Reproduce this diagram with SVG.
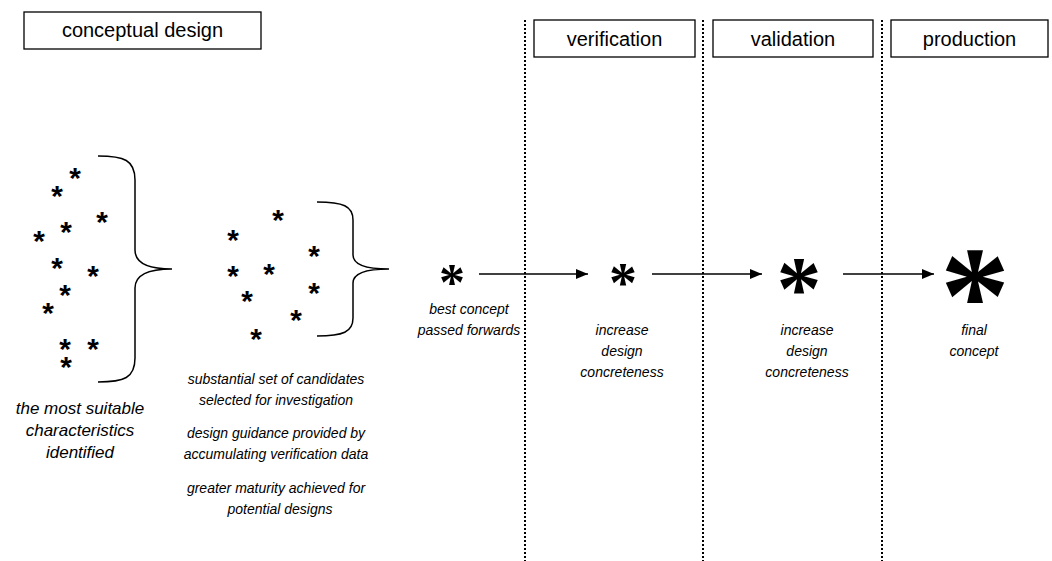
<svg xmlns="http://www.w3.org/2000/svg" width="1052" height="561" viewBox="0 0 1052 561">
<style>
.box{fill:#fff;stroke:#000;stroke-width:1.3}
.title{font-family:"Liberation Sans",Arial,sans-serif;font-size:20px;text-anchor:middle;fill:#000}
.lbl{font-family:"Liberation Sans",Arial,sans-serif;font-size:14px;font-style:italic;text-anchor:middle;fill:#000}
.lbl17{font-size:17px}
.sa{font-family:"Liberation Sans",Arial,sans-serif;font-size:30px;font-style:italic;font-weight:bold;fill:#000}
.ba{font-family:"Liberation Serif","Times New Roman",serif;font-weight:bold;text-anchor:middle;fill:#000}
.dot{stroke:#000;stroke-width:2;stroke-dasharray:2 2;fill:none}
.brace{fill:none;stroke:#000;stroke-width:1.5}
.arr{stroke:#000;stroke-width:1.3;fill:none;marker-end:url(#ah)}
</style>
<defs>
<marker id="ah" markerWidth="12" markerHeight="10" refX="12" refY="5" orient="auto" markerUnits="userSpaceOnUse">
<path d="M0,0 L12,5 L0,10 Z" fill="#000"/>
</marker>
</defs>
<rect width="1052" height="561" fill="#fff"/>
<g id="phase-dividers">
<line class="dot" x1="525" y1="20" x2="525" y2="561"/>
<line class="dot" x1="703" y1="20" x2="703" y2="561"/>
<line class="dot" x1="882" y1="20" x2="882" y2="561"/>
</g>
<g id="conceptual-design-header">
<rect class="box" x="24" y="12" width="237" height="37"/>
<text class="title" x="142.5" y="37">conceptual design</text>
</g>
<g id="verification-header">
<rect class="box" x="534" y="20" width="161" height="37"/>
<text class="title" x="614.5" y="46">verification</text>
</g>
<g id="validation-header">
<rect class="box" x="713" y="20" width="160" height="37"/>
<text class="title" x="793" y="46">validation</text>
</g>
<g id="production-header">
<rect class="box" x="891" y="20" width="157" height="37"/>
<text class="title" x="969.5" y="46">production</text>
</g>
<g id="characteristics-cluster">
<text class="sa" x="68" y="188">*</text>
<text class="sa" x="50" y="206">*</text>
<text class="sa" x="95" y="232">*</text>
<text class="sa" x="59" y="242">*</text>
<text class="sa" x="32" y="251">*</text>
<text class="sa" x="50" y="278">*</text>
<text class="sa" x="86" y="286">*</text>
<text class="sa" x="58" y="305">*</text>
<text class="sa" x="41" y="323">*</text>
<text class="sa" x="58" y="359">*</text>
<text class="sa" x="86" y="359">*</text>
<text class="sa" x="59" y="377">*</text>
<path class="brace" d="M98,156 C124,156 135,160 135,180 L135,250 C135,263 148,269 172,269 C148,269 135,275 135,288 L135,358 C135,378 124,382 98,382"/>
<text class="lbl lbl17" x="80" y="414">the most suitable</text>
<text class="lbl lbl17" x="80" y="436">characteristics</text>
<text class="lbl lbl17" x="80" y="458">identified</text>
</g>
<g id="candidates-cluster">
<text class="sa" x="271" y="230">*</text>
<text class="sa" x="226" y="250">*</text>
<text class="sa" x="307" y="266">*</text>
<text class="sa" x="226" y="286">*</text>
<text class="sa" x="262" y="284">*</text>
<text class="sa" x="240" y="311">*</text>
<text class="sa" x="307" y="303">*</text>
<text class="sa" x="289" y="330">*</text>
<text class="sa" x="249" y="349">*</text>
<path class="brace" d="M317,202 C343,202 353,206 353,220 L353,255 C353,264 363,269 389,269 C363,269 353,274 353,283 L353,318 C353,332 343,336 317,336"/>
<text class="lbl" x="276" y="384">substantial set of candidates</text>
<text class="lbl" x="276" y="405">selected for investigation</text>
<text class="lbl" x="276" y="438">design guidance provided by</text>
<text class="lbl" x="276" y="459">accumulating verification data</text>
<text class="lbl" x="276" y="493">greater maturity achieved for</text>
<text class="lbl" x="280" y="514">potential designs</text>
</g>
<g id="best-concept">
<text class="ba" x="452" y="300" font-size="52">*</text>
<text class="lbl" x="469" y="314">best concept</text>
<text class="lbl" x="469" y="335">passed forwards</text>
</g>
<g id="verification-concept">
<text class="ba" x="623" y="302" font-size="56">*</text>
<text class="lbl" x="622" y="335">increase</text>
<text class="lbl" x="622" y="356">design</text>
<text class="lbl" x="622" y="377">concreteness</text>
</g>
<g id="validation-concept">
<text class="ba" x="799" y="319" font-size="90">*</text>
<text class="lbl" x="807" y="335">increase</text>
<text class="lbl" x="807" y="356">design</text>
<text class="lbl" x="807" y="377">concreteness</text>
</g>
<g id="final-concept">
<text class="ba" x="975" y="343" font-size="140">*</text>
<text class="lbl" x="974" y="335">final</text>
<text class="lbl" x="974" y="356">concept</text>
</g>
<g id="connectors">
<line class="arr" x1="479" y1="274" x2="588" y2="274"/>
<line class="arr" x1="652" y1="274" x2="762" y2="274"/>
<line class="arr" x1="843" y1="274" x2="934" y2="274"/>
</g>
</svg>
